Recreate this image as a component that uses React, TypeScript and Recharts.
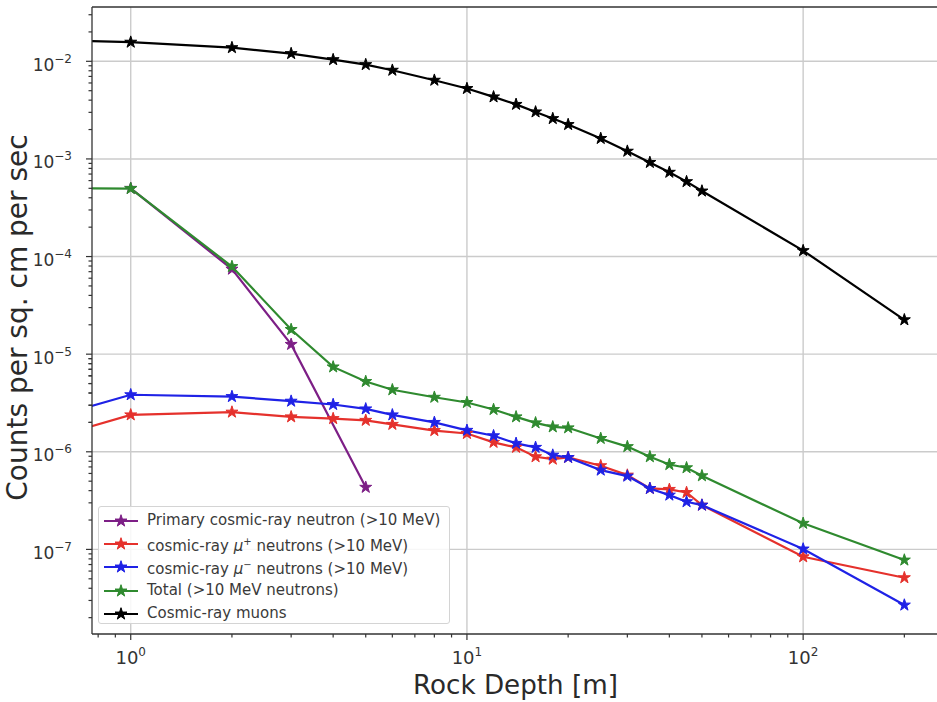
import React from 'react';
import { LineChart, Line, XAxis, YAxis, CartesianGrid, ReferenceLine, Legend } from 'recharts';

// rock depth in metres (first point lies left of the visible range)
const depths = [0.5, 1, 2, 3, 4, 5, 6, 8, 10, 12, 14, 16, 18, 20, 25, 30, 35, 40, 45, 50, 100, 200];
const primaryDepths = [1, 2, 3, 5];

// counts per sq. cm per sec
const primaryNeutron = [5.0e-4, 7.43e-5, 1.26e-5, 4.33e-7];
const muPlusNeutrons = [1.2e-6, 2.39e-6, 2.55e-6, 2.28e-6, 2.19e-6, 2.1e-6, 1.91e-6, 1.65e-6, 1.54e-6, 1.25e-6, 1.11e-6, 8.9e-7, 8.4e-7, 8.75e-7, 7.2e-7, 5.77e-7, 4.21e-7, 4.12e-7, 3.83e-7, 2.84e-7, 8.4e-8, 5.13e-8];
const muMinusNeutrons = [1.93e-6, 3.84e-6, 3.68e-6, 3.3e-6, 3.05e-6, 2.75e-6, 2.39e-6, 2.0e-6, 1.66e-6, 1.46e-6, 1.22e-6, 1.11e-6, 9.24e-7, 8.75e-7, 6.49e-7, 5.63e-7, 4.21e-7, 3.6e-7, 3.08e-7, 2.84e-7, 1.01e-7, 2.69e-8];
const totalNeutrons = [5.0e-4, 4.97e-4, 7.9e-5, 1.79e-5, 7.4e-6, 5.25e-6, 4.32e-6, 3.62e-6, 3.2e-6, 2.71e-6, 2.28e-6, 1.98e-6, 1.8e-6, 1.76e-6, 1.37e-6, 1.13e-6, 8.9e-7, 7.4e-7, 6.86e-7, 5.68e-7, 1.85e-7, 7.78e-8];
const muons = [0.0168, 0.0157, 0.0138, 0.012, 0.0104, 0.00925, 0.0081, 0.0064, 0.00526, 0.00432, 0.00362, 0.00303, 0.00259, 0.00225, 0.00162, 0.0012, 0.00092, 0.00073, 0.000585, 0.000469, 0.000115, 2.25e-5];

// axis ticks
const xMajor = [1, 10, 100];
const yMajor = [1e-7, 1e-6, 1e-5, 1e-4, 1e-3, 1e-2];
const xDomain = [0.767, 260.6];
const yDomain = [1.36e-8, 0.036];

const FONT = '"DejaVu Sans", sans-serif';

const minorOf = (decades: number[], lo: number, hi: number) => {
  const out: number[] = [];
  decades.forEach((d) => {
    for (let m = 2; m <= 9; m++) {
      [d / 10, d].forEach((base) => {
        const v = base * m;
        if (v >= lo && v <= hi && !out.includes(v)) out.push(v);
      });
    }
  });
  return out;
};

const xTicks = [...xMajor, ...minorOf(xMajor, xDomain[0], xDomain[1])].sort((a, b) => a - b);
const yTicks = [...yMajor, ...minorOf(yMajor, yDomain[0], yDomain[1])].sort((a, b) => a - b);

const toPoints = (xs: number[], ys: number[]) => xs.map((x, i) => ({ x, y: ys[i] }));

const series = [
  { name: 'primary', color: '#7d1f86', data: toPoints(primaryDepths, primaryNeutron) },
  { name: 'muplus', color: '#e5312c', data: toPoints(depths, muPlusNeutrons) },
  { name: 'muminus', color: '#1f22e6', data: toPoints(depths, muMinusNeutrons) },
  { name: 'total', color: '#2f8a2f', data: toPoints(depths, totalNeutrons) },
  { name: 'muons', color: '#000000', data: toPoints(depths, muons) },
];

const starPath = (cx: number, cy: number, R: number) => {
  const r = R * 0.381966;
  let d = '';
  for (let k = 0; k < 10; k++) {
    const a = -Math.PI / 2 + (k * Math.PI) / 5;
    const rad = k % 2 === 0 ? R : r;
    d += (k === 0 ? 'M' : 'L') + (cx + rad * Math.cos(a)).toFixed(2) + ',' + (cy + rad * Math.sin(a)).toFixed(2);
  }
  return d + 'Z';
};

const Star = ({ cx, cy, color }: { cx: number; cy: number; color: string }) => (
  <path d={starPath(cx, cy, 6.3)} fill={color} stroke={color} strokeWidth={1} strokeLinejoin="miter" />
);

const isMajor = (v: number, majors: number[]) => majors.some((m) => Math.abs(m - v) / m < 1e-6);

const XTick = (props: any) => {
  const { x, y, payload } = props;
  const v = payload.value;
  const major = isMajor(v, xMajor);
  return (
    <g>
      <line x1={x} x2={x} y1={y} y2={y + (major ? 6 : 3.5)} stroke="#333" strokeWidth={1.2} />
      {major && (
        <text x={x} y={y + 30} textAnchor="middle" fontFamily={FONT} fill="#333">
          <tspan fontSize={18}>10</tspan>
          <tspan fontSize={12} dy={-8.5}>{Math.round(Math.log10(v))}</tspan>
        </text>
      )}
    </g>
  );
};

const YTick = (props: any) => {
  const { x, y, payload } = props;
  const v = payload.value;
  const major = isMajor(v, yMajor);
  return (
    <g>
      <line x1={x} x2={x - (major ? 6 : 3.5)} y1={y} y2={y} stroke="#333" strokeWidth={1.2} />
      {major && (
        <text x={x - 20} y={y + 9.5} textAnchor="end" fontFamily={FONT} fill="#333">
          <tspan fontSize={17}>10</tspan>
          <tspan fontSize={12} dy={-8}>{'\u2212' + Math.round(-Math.log10(v))}</tspan>
        </text>
      )}
    </g>
  );
};

const legendRows = [
  { color: '#7d1f86', label: <>Primary cosmic-ray neutron (&gt;10 MeV)</> },
  { color: '#e5312c', label: <>cosmic-ray <i>μ</i><sup style={{ fontSize: 10 }}>+</sup> neutrons (&gt;10 MeV)</> },
  { color: '#1f22e6', label: <>cosmic-ray <i>μ</i><sup style={{ fontSize: 10 }}>−</sup> neutrons (&gt;10 MeV)</> },
  { color: '#2f8a2f', label: <>Total (&gt;10 MeV neutrons)</> },
  { color: '#000000', label: <>Cosmic-ray muons</> },
];

const LegendBox = () => (
  <div
    style={{
      width: 352,
      height: 118,
      border: '1px solid #d4d4d4',
      borderRadius: 3,
      background: 'rgba(255,255,255,0.85)',
      fontFamily: FONT,
      fontSize: 15,
      color: '#3a3a3a',
      paddingTop: 2,
      boxSizing: 'border-box',
    }}
  >
    {legendRows.map((row, i) => (
      <div key={i} style={{ display: 'flex', alignItems: 'center', height: 23.3, lineHeight: '15px' }}>
        <svg width={48} height={16} style={{ flex: 'none' }}>
          <line x1={5} x2={39} y1={8} y2={8} stroke={row.color} strokeWidth={2.2} />
          <Star cx={22} cy={8} color={row.color} />
        </svg>
        <span style={{ whiteSpace: 'nowrap' }}>{row.label}</span>
      </div>
    ))}
  </div>
);

export default function App() {
  return (
    <div style={{ position: 'absolute', left: 0, top: 0, width: 937, height: 702, overflow: 'hidden', background: '#fff' }}>
      <LineChart width={960} height={702} margin={{ top: 7, right: 17, bottom: 0, left: 0 }}>
        <CartesianGrid
          stroke="#cbcbcb"
          strokeWidth={1.4}
          verticalValues={xMajor}
          horizontalValues={yMajor}
        />
        <XAxis
          type="number"
          dataKey="x"
          scale="log"
          domain={xDomain}
          allowDataOverflow
          ticks={xTicks}
          interval={0}
          tick={<XTick />}
          tickLine={false}
          tickSize={0}
          tickMargin={0}
          height={68}
          axisLine={{ stroke: '#333', strokeWidth: 1.3 }}
          label={{
            content: (p: any) => (
              <text
                x={p.viewBox.x + p.viewBox.width / 2 - 2}
                y={p.viewBox.y + 60}
                textAnchor="middle"
                fontFamily={FONT}
                fontSize={27}
                textLength={205}
                lengthAdjust="spacingAndGlyphs"
                fill="#2a2a2a"
              >
                Rock Depth [m]
              </text>
            ),
          }}
        />
        <YAxis
          type="number"
          dataKey="y"
          scale="log"
          domain={yDomain}
          allowDataOverflow
          ticks={yTicks}
          interval={0}
          tick={<YTick />}
          tickLine={false}
          tickSize={0}
          tickMargin={0}
          width={92}
          axisLine={{ stroke: '#333', strokeWidth: 1.3 }}
          label={{
            content: (p: any) => {
              const cx = 27;
              const cy = p.viewBox.y + p.viewBox.height / 2 - 3;
              return (
                <text
                  x={cx}
                  y={cy}
                  transform={`rotate(-90 ${cx} ${cy})`}
                  textAnchor="middle"
                  fontFamily={FONT}
                  fontSize={28}
                  fill="#2a2a2a"
                >
                  Counts per sq. cm per sec
                </text>
              );
            },
          }}
        />
        <ReferenceLine y={yDomain[1]} stroke="#333" strokeWidth={1.3} ifOverflow="visible" />
        {series.map((s) => (
          <Line
            key={s.name}
            data={s.data}
            dataKey="y"
            type="linear"
            stroke={s.color}
            strokeWidth={2.2}
            dot={(p: any) => <Star key={`${s.name}-${p.index}`} cx={p.cx} cy={p.cy} color={s.color} />}
            activeDot={false}
            isAnimationActive={false}
          />
        ))}
        <Legend
          layout="vertical"
          align="center"
          verticalAlign="middle"
          wrapperStyle={{ left: 98, top: 506, width: 352 }}
          content={() => <LegendBox />}
        />
      </LineChart>
    </div>
  );
}
